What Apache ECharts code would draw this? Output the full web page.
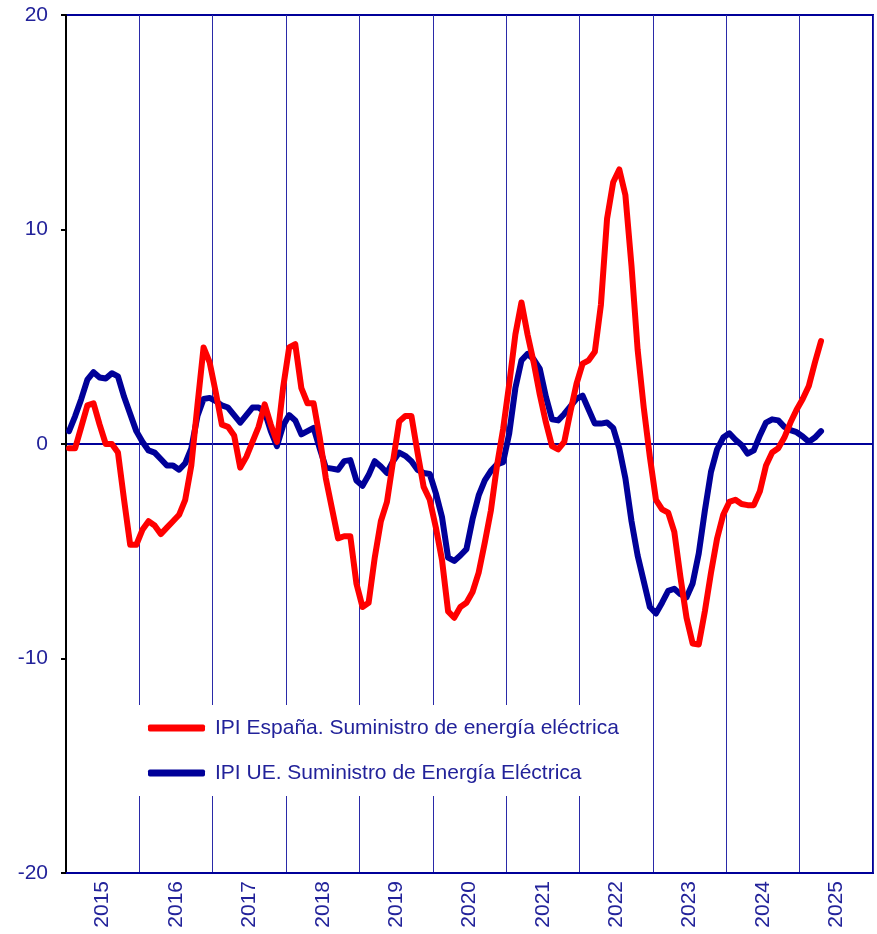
<!DOCTYPE html>
<html>
<head>
<meta charset="utf-8">
<script src="https://cdn.jsdelivr.net/npm/echarts@6/dist/echarts.min.js"></script>
<style>
  html, body { margin: 0; padding: 0; background: #fff; }
  #main { width: 877px; height: 934px; }
</style>
</head>
<body>
<div id="main"></div>
<script>
// year labels on the x axis
var years = ['2015', '2016', '2017', '2018', '2019', '2020', '2021', '2022', '2023', '2024', '2025'];

var nameEs = 'IPI España. Suministro de energía eléctrica';
var nameUe = 'IPI UE. Suministro de Energía Eléctrica';

// monthly values, Jan 2015 .. Apr 2025
var ipiEspana = [
    -0.2, -0.2, 0.8, 1.8, 1.9, 0.9, 0.0, 0.0, -0.4, -2.6, -4.7, -4.7,
    -4.0, -3.6, -3.8, -4.2, -3.9, -3.6, -3.3, -2.6, -1.0, 1.8, 4.5, 3.8,
    2.4, 0.9, 0.8, 0.4, -1.1, -0.6, 0.1, 0.8, 1.85, 0.9, 0.1, 2.6,
    4.5, 4.65, 2.6, 1.9, 1.9, 0.3, -1.6, -3.0, -4.4, -4.3, -4.3, -6.5,
    -7.6, -7.4, -5.3, -3.6, -2.7, -0.8, 1.05, 1.3, 1.3, -0.4, -2.0, -2.6,
    -3.9, -5.4, -7.8, -8.1, -7.6, -7.4, -6.9, -6.0, -4.6, -3.1, -1.0, 0.7,
    2.8, 5.1, 6.6, 5.1, 3.8, 2.3, 1.0, -0.1, -0.25, 0.1, 1.5, 2.8,
    3.75, 3.9, 4.3, 6.5, 10.5, 12.2, 12.8, 11.6, 8.3, 4.4, 1.7, -0.6,
    -2.6, -3.05, -3.2, -4.1, -6.2, -8.1, -9.3, -9.35, -7.8, -6.0, -4.4, -3.3,
    -2.7, -2.6, -2.8, -2.85, -2.85, -2.2, -1.0, -0.4, -0.2, 0.3, 1.0, 1.6,
    2.1, 2.7, 3.8, 4.8
];

var ipiUe = [
    0.6, 1.3, 2.1, 3.0, 3.35, 3.1, 3.05, 3.3, 3.15, 2.2, 1.4, 0.6,
    0.1, -0.3, -0.4, -0.7, -1.0, -1.0, -1.2, -0.9, -0.2, 1.3, 2.1, 2.15,
    2.0, 1.8, 1.7, 1.35, 1.0, 1.35, 1.7, 1.7, 1.5, 0.6, -0.1, 0.85,
    1.35, 1.1, 0.45, 0.6, 0.75, -0.2, -1.1, -1.15, -1.2, -0.8, -0.75, -1.7,
    -1.95, -1.45, -0.8, -1.05, -1.35, -0.8, -0.4, -0.55, -0.8, -1.2, -1.35, -1.4,
    -2.3, -3.4, -5.3, -5.45, -5.2, -4.9, -3.5, -2.4, -1.7, -1.25, -0.95, -0.85,
    0.5, 2.6, 3.9, 4.2, 3.95, 3.5, 2.2, 1.15, 1.1, 1.4, 1.75, 2.1,
    2.25, 1.6, 0.95, 0.95, 1.0, 0.75, -0.2, -1.6, -3.6, -5.2, -6.4, -7.6,
    -7.9, -7.4, -6.85, -6.75, -7.0, -7.15, -6.5, -5.1, -3.1, -1.3, -0.25, 0.3,
    0.5, 0.2, -0.05, -0.45, -0.3, 0.4, 1.0, 1.15, 1.1, 0.8, 0.65, 0.55,
    0.35, 0.1, 0.3, 0.6
];

var navy = '#000099';
var textNavy = '#22229a';
var font = 'Liberation Sans, Arial, sans-serif';

// one category per month across the whole axis
var months = [];
years.forEach(function (y) {
    for (var m = 1; m <= 12; m++) months.push(y + '-' + m);
});

var myChart = echarts.init(document.getElementById('main'));
myChart.setOption({
    animation: false,
    backgroundColor: '#fff',
    grid: {
        left: 66, right: 4, top: 15, bottom: 61,
        show: true,
        borderColor: navy,
        borderWidth: 2
    },
    legend: {
        data: [nameEs, nameUe],
        orient: 'vertical',
        left: 134,
        top: 705,
        padding: [12, 14, 12, 14],
        itemGap: 23,
        icon: 'roundRect',
        itemWidth: 57,
        itemHeight: 7,
        backgroundColor: '#fff',
        textStyle: {
            color: textNavy, fontSize: 21, fontFamily: font,
            lineHeight: 22, padding: [0, 0, 0, 5]
        }
    },
    xAxis: [
        {
            type: 'category',
            data: months,
            boundaryGap: true,
            show: false
        },
        {
            type: 'category',
            data: years,
            boundaryGap: true,
            position: 'bottom',
            axisLine: { lineStyle: { color: navy, width: 2 } },
            axisTick: { show: false },
            axisLabel: {
                rotate: 90,
                margin: 8,
                color: textNavy,
                fontSize: 21,
                fontFamily: font
            },
            splitLine: { show: true, lineStyle: { color: '#2a2aa8', width: 1 } }
        }
    ],
    yAxis: {
        type: 'value',
        min: -20,
        max: 20,
        interval: 10,
        axisLine: { show: true, lineStyle: { color: '#000', width: 2 } },
        axisTick: { show: true, length: 5, lineStyle: { color: '#000', width: 2 } },
        axisLabel: { margin: 18, color: textNavy, fontSize: 21, fontFamily: font },
        // only the zero line is drawn
        splitLine: {
            show: true,
            lineStyle: { color: ['rgba(0,0,0,0)', 'rgba(0,0,0,0)', navy, 'rgba(0,0,0,0)', 'rgba(0,0,0,0)'], width: 2 }
        }
    },
    series: [
        {
            name: nameUe,
            type: 'line',
            xAxisIndex: 0,
            data: ipiUe,
            symbol: 'none',
            lineStyle: { color: navy, width: 6, cap: 'round', join: 'round' },
            itemStyle: { color: navy }
        },
        {
            name: nameEs,
            type: 'line',
            xAxisIndex: 0,
            data: ipiEspana,
            symbol: 'none',
            lineStyle: { color: '#ff0000', width: 6, cap: 'round', join: 'round' },
            itemStyle: { color: '#ff0000' }
        }
    ]
});
</script>
</body>
</html>
